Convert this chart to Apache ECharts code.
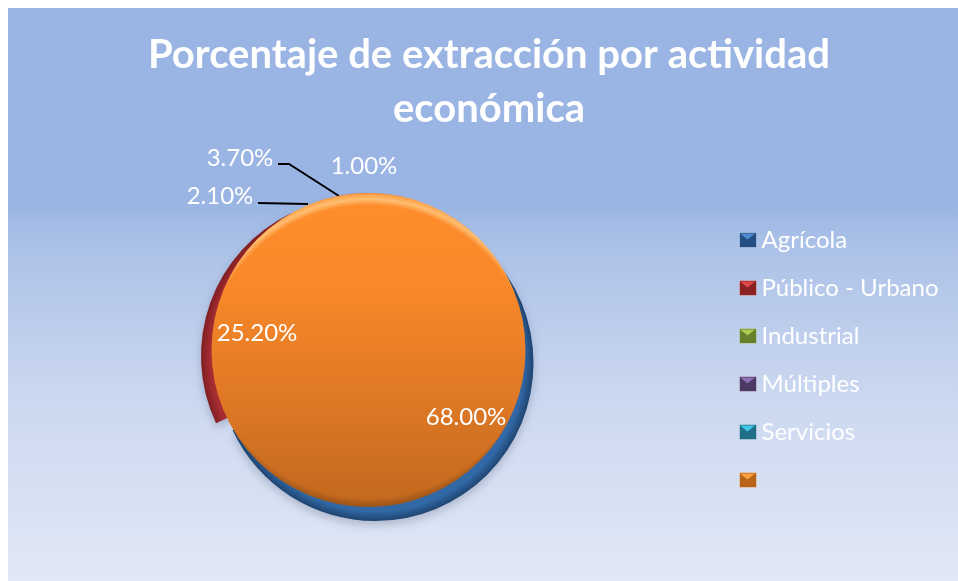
<!DOCTYPE html>
<html>
<head>
<meta charset="utf-8">
<style>
  html, body { margin: 0; padding: 0; background: #fff; }
  #main { position: absolute; left: 8px; top: 8px; width: 950px; height: 573px; }
</style>
<script src="https://cdn.jsdelivr.net/npm/echarts@6/dist/echarts.min.js"></script>
</head>
<body>
<div id="main"></div>
<script>
// datos
const categories = ['Agrícola', 'Público - Urbano', 'Industrial', 'Múltiples', 'Servicios'];
const values = [68.0, 25.2, 2.1, 3.7, 1.0];
// sexta categoria sin nombre: un disco naranja que tapa a las demas
const blankName = ' ';
const blankValue = 100;
const titleText = 'Porcentaje de extracción por actividad\neconómica';

const colors = ['#3168a5', '#a82d31', '#7f9d3a', '#5f4a7d', '#2e8ca8'];
const edgeColors = ['#1e4470', '#7f1f23', '#66802c', '#4b3863', '#1f6f88'];

// pastel "explotado": cada porcion tiene su centro [x, y, radio]
const discSpot = [360.5, 342, 157];
const sliceSpots = [[367.5, 355, 158], [351, 348, 158], [360.5, 343, 157.4], [360.5, 343, 157.4], [360.5, 343, 157.4]];

// etiquetas: posicion a mano como en el original
const labelSpots = [[458, 409], [249, 325], [212, 188], [232, 150], [356, 158]];
const leaderLines = {
    2: [[250, 195], [300, 196]],
    3: [[270, 156], [281, 156], [331, 188]]
};

const legendColors = {
    dark: ['#234f85', '#8a2226', '#66802c', '#4b3863', '#1f6f88', '#b8641a'],
    light: ['#4f8ad0', '#e0474b', '#a9cc55', '#8f71b3', '#45c8e8', '#ffa040']
};

function toStops(stops) {
    return stops.map(s => ({ offset: s[0], color: s[1] }));
}
function vgrad(stops) {
    return { type: 'linear', x: 0, y: 0, x2: 0, y2: 1, colorStops: toStops(stops) };
}
function rgrad(x, y, r, stops) {
    return { type: 'radial', x: x, y: y, r: r, global: true, colorStops: toStops(stops) };
}

const fontName = 'Lato, Carlito, "Open Sans", sans-serif';
const legendNames = categories.concat([blankName]);

function legendBase(extra) {
    return Object.assign({
        orient: 'vertical', left: 731, top: 218, padding: 0,
        itemWidth: 17, itemHeight: 15, itemGap: 20, selectedMode: false
    }, extra);
}

// una serie por categoria; el resto de porciones queda transparente
function sliceSeries(idx) {
    const spot = sliceSpots[idx];
    return {
        type: 'pie',
        center: [spot[0], spot[1]],
        radius: [0, spot[2]],
        silent: true,
        avoidLabelOverlap: false,
        data: categories.map((n, i) => i !== idx
            ? { name: n, value: values[i], itemStyle: { color: 'transparent' }, label: { show: false }, labelLine: { show: false } }
            : {
                name: n,
                value: values[i],
                itemStyle: {
                    color: rgrad(spot[0], spot[1], spot[2], [[0, colors[i]], [0.94, colors[i]], [1, edgeColors[i]]]),
                    shadowBlur: 10, shadowOffsetY: 4, shadowColor: 'rgba(40,50,80,0.25)'
                },
                label: { show: true },
                labelLine: { show: !!leaderLines[i] }
            }),
        label: {
            position: 'outside', color: '#fff',
            fontFamily: fontName, fontSize: 24,
            formatter: p => p.value.toFixed(2) + '%'
        },
        labelLine: { lineStyle: { color: '#000', width: 2 } },
        labelLayout: p => ({
            x: labelSpots[p.dataIndex][0],
            y: labelSpots[p.dataIndex][1],
            align: 'center',
            verticalAlign: 'middle',
            labelLinePoints: leaderLines[p.dataIndex]
        })
    };
}

function discSeries(color) {
    return {
        type: 'pie',
        center: [discSpot[0], discSpot[1]],
        radius: [0, discSpot[2]],
        silent: true,
        label: { show: false },
        labelLine: { show: false },
        data: [{ name: blankName, value: blankValue, itemStyle: { color: color } }]
    };
}

const cx = discSpot[0], cy = discSpot[1], cr = discSpot[2];

const option = {
    animation: false,
    backgroundColor: vgrad([[0, '#9ab5e3'], [0.34, '#9ab5e3'], [0.42, '#adc2e8'], [0.7, '#cdd9f0'], [1, '#e1e8f6']]),
    title: {
        text: titleText, left: 476, top: 15, textAlign: 'center',
        textStyle: { color: '#fff', fontFamily: fontName, fontWeight: 'bold', fontSize: 40, lineHeight: 54 }
    },
    legend: [
        legendBase({
            icon: 'rect',
            textStyle: { color: '#fff', fontFamily: fontName, fontSize: 24, lineHeight: 28 },
            data: legendNames.map((n, i) => ({
                name: n,
                itemStyle: { color: legendColors.dark[i], borderColor: 'rgba(255,255,255,0.35)', borderWidth: 1 }
            }))
        }),
        // segunda capa: solo el triangulo claro del icono biselado
        legendBase({
            icon: 'path://M1 1L16 1L8.5 7Z M0 0L0 0 M17 15L17 15',
            textStyle: { color: 'transparent', fontFamily: fontName, fontSize: 24, lineHeight: 28 },
            data: legendNames.map((n, i) => ({ name: n, itemStyle: { color: legendColors.light[i] } }))
        })
    ],
    series: categories.map((n, i) => sliceSeries(i)).concat([
        // cara del disco
        discSeries(vgrad([[0, '#ff8d2b'], [0.3, '#f8882a'], [0.6, '#e37b26'], [1, '#c2681e']])),
        // brillo de arriba
        discSeries(rgrad(cx, cy + 20, cr + 20, [[0, 'rgba(255,210,140,0)'], [0.93, 'rgba(255,210,140,0)'], [0.965, 'rgba(255,212,145,0.7)'], [0.99, 'rgba(255,190,110,0.5)'], [1, 'rgba(225,125,45,0.9)']])),
        // sombra de abajo
        discSeries(rgrad(cx, cy - 15, cr + 15, [[0, 'rgba(120,65,20,0)'], [0.95, 'rgba(120,65,20,0)'], [1, 'rgba(120,65,20,0.55)']]))
    ])
};

const chart = echarts.init(document.getElementById('main'));
chart.setOption(option);
</script>
</body>
</html>
